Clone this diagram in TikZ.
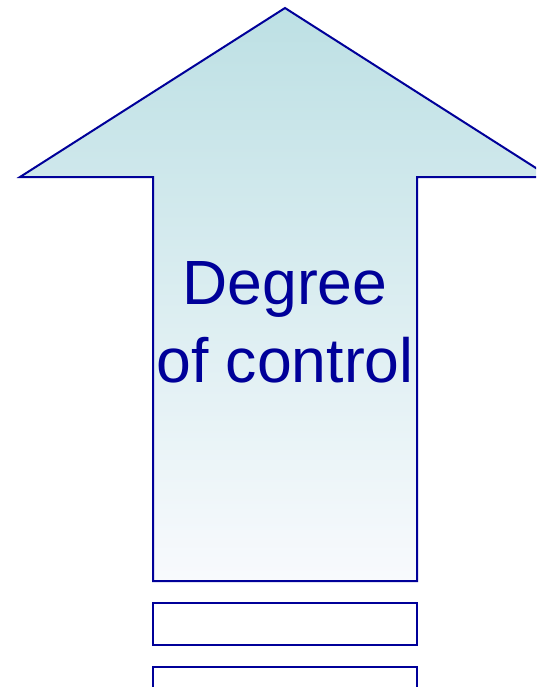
\documentclass[tikz,border=0pt]{standalone}
\usepackage{fontspec}
\setmainfont{Liberation Sans}
\definecolor{edge}{RGB}{0,0,153}
\definecolor{topteal}{RGB}{189,224,228}
\definecolor{botwhite}{RGB}{248,250,253}
\tikzset{
  outline/.style={draw=edge, line width=2pt, line join=miter},
  boxstyle/.style={outline, fill=white},
  label/.style={text=edge, font=\fontsize{62.5}{78}\selectfont, align=center, inner sep=0pt}
}
\begin{document}
\begin{tikzpicture}[x=1pt,y=-1pt]
\useasboundingbox (0,0) rectangle (536,687);
\clip (0,0) rectangle (536,687);
\shade[top color=topteal, bottom color=botwhite]
  (285,8) -- (550,177) -- (417,177) -- (417,581) -- (153,581) -- (153,177) -- (20,177) -- cycle;
\draw[outline]
  (285,8) -- (550,177) -- (417,177) -- (417,581) -- (153,581) -- (153,177) -- (20,177) -- cycle;
\node[label] (txt) at (285,322) {Degree\\of control};
\draw[boxstyle] (153,603) rectangle (417,645);
\draw[boxstyle] (153,667) rectangle (417,720);
\end{tikzpicture}
\end{document}
